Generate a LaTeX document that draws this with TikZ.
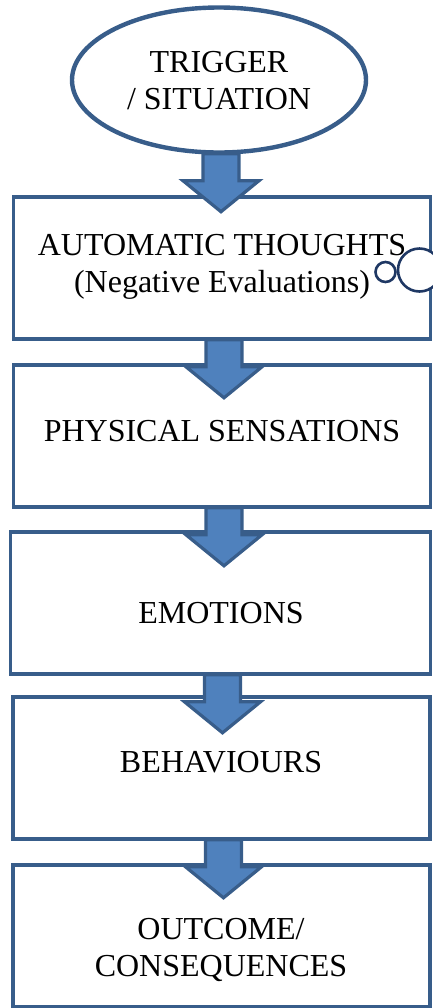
\documentclass[tikz,border=0pt]{standalone}
\usepackage{fontspec}
\setmainfont{Liberation Serif}
\usetikzlibrary{calc,positioning,shapes.geometric}
\definecolor{boxblue}{RGB}{56,93,138}
\definecolor{arrblue}{RGB}{79,129,189}
\definecolor{bubblue}{RGB}{31,56,100}
\newcommand{\flowarrow}[1]{%
  \draw[arrowshape] ($(#1.south)+(-16,-1)$) -- ++(0,27) -- ++(-20,0)
    -- ++(38,31) -- ++(38,-31) -- ++(-20,0) -- ++(0,-27) -- cycle;}

\begin{document}
\begin{tikzpicture}[x=0.5pt,y=-0.5pt,
  box/.style={draw=boxblue,line width=1.8pt,fill=white,minimum width=208.5pt,minimum height=71pt,inner sep=0pt},
  lbl/.style={font=\fontsize{16}{18.5}\selectfont,align=center,inner sep=0pt},
  arrowshape/.style={draw=boxblue,fill=arrblue,line width=1.6pt,line join=miter},
  bubble/.style={draw=bubblue,line width=1.3pt,fill=white}]
  \useasboundingbox (0,0) rectangle (433,1008);

  % trigger
  \node[ellipse,draw=boxblue,line width=2.2pt,minimum width=147pt,minimum height=72.5pt,inner sep=0pt] (trig) at (219,80) {};
  \node[lbl] (trigtxt) at (219,81) {TRIGGER\\/ SITUATION};

  % boxes
  \node[box] (auto) at (222,268) {};
  \node[box] (phys) at (222,436) {};
  \node[box,minimum width=210pt] (emo) at (220.5,603) {};
  \node[box] (behav) at (221.5,768) {};
  \node[box] (outc) at (221.5,936) {};

  \node[lbl] (autotxt) at (222,267) {AUTOMATIC THOUGHTS\\(Negative Evaluations)};
  \node[lbl] (phystxt) at (222,431) {PHYSICAL SENSATIONS};
  \node[lbl] (emotxt) at (221,613) {EMOTIONS};
  \node[lbl] (behavtxt) at (221,762) {BEHAVIOURS};
  \node[lbl] (outctxt) at (221,950) {OUTCOME/\\CONSEQUENCES};

  % thought bubbles
  \draw[bubble] (385.5,272) circle (10);
  \draw[bubble] (419.5,270) circle (21.5);

  % arrows
  \flowarrow{trig}
  \flowarrow{auto}
  \flowarrow{phys}
  \flowarrow{emo}
  \flowarrow{behav}
\end{tikzpicture}
\end{document}
